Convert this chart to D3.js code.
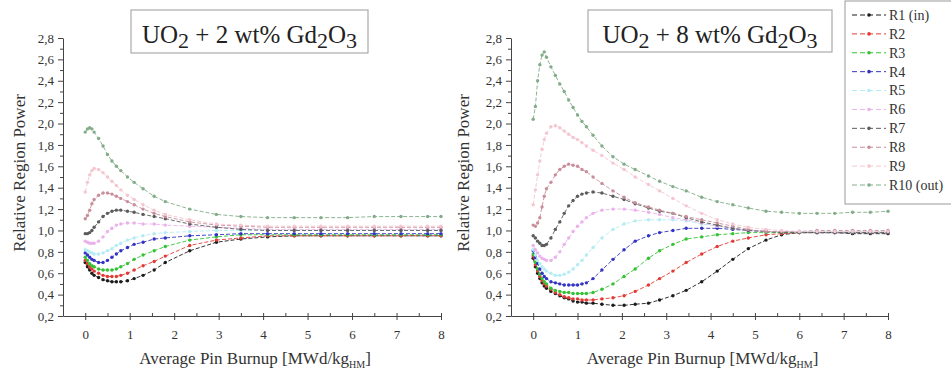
<!DOCTYPE html>
<html lang="en">
<head>
<meta charset="UTF-8">
<title>Relative Region Power</title>
<script src="https://cdnjs.cloudflare.com/ajax/libs/d3/7.8.5/d3.min.js"></script>
<style>
    body { margin: 0; background: #fff; }
    svg { display: block; }
    svg text { font-family: "Liberation Serif", "DejaVu Serif", "Times New Roman", serif !important; }
    .tick text { fill: #333; font-size: 13px; }
    .domain, .tick line { stroke: #444; }
    .ytitle, .xtitle { fill: #333; }
    .legend text { font-size: 14px; fill: #333; }
</style>
</head>
<body>
<script>
// burnup grids (MWd/kgHM)
const burnupLeft = [0, 0.05, 0.1, 0.15, 0.2, 0.3, 0.4, 0.5, 0.6, 0.7, 0.8, 0.95, 1.1, 1.3, 1.55, 1.8,
    2.35, 2.95, 3.5, 4.1, 4.7, 5.3, 5.9, 6.5, 7.1, 7.7, 8.0];
const burnupRight = [0, 0.05, 0.1, 0.15, 0.2, 0.25, 0.3, 0.4, 0.5, 0.6, 0.7, 0.8, 0.9, 1.0, 1.1, 1.2,
    1.35, 1.55, 1.8, 2.05, 2.3, 2.6, 2.85, 3.15, 3.45, 3.8, 4.15, 4.5, 4.85, 5.25, 5.6, 6.0, 6.4, 6.8, 7.2, 7.6, 8.0];

const regions = ["R1 (in)", "R2", "R3", "R4", "R5", "R6", "R7", "R8", "R9", "R10 (out)"];
const regionColors = ["#1c1c1c", "#e23b35", "#33c233", "#3434c4", "#b3ecf4", "#eab2ea", "#5c5c5c", "#c88f9b", "#f4c6cf", "#82ad88"];

// UO2 + 2 wt% Gd2O3
const gd2R1  = [0.70, 0.66, 0.63, 0.60, 0.58, 0.56, 0.54, 0.53, 0.52, 0.52, 0.52, 0.53, 0.55, 0.58, 0.63, 0.70, 0.81, 0.89, 0.92, 0.94, 0.95, 0.95, 0.95, 0.95, 0.95, 0.95, 0.95];
const gd2R2  = [0.72, 0.69, 0.66, 0.64, 0.62, 0.60, 0.58, 0.57, 0.57, 0.57, 0.58, 0.60, 0.63, 0.67, 0.71, 0.76, 0.86, 0.91, 0.93, 0.95, 0.95, 0.95, 0.95, 0.95, 0.95, 0.95, 0.95];
const gd2R3  = [0.75, 0.72, 0.69, 0.67, 0.66, 0.64, 0.63, 0.63, 0.63, 0.64, 0.66, 0.69, 0.73, 0.77, 0.81, 0.85, 0.91, 0.94, 0.96, 0.96, 0.96, 0.96, 0.96, 0.96, 0.96, 0.96, 0.96];
const gd2R4  = [0.79, 0.77, 0.75, 0.73, 0.72, 0.70, 0.70, 0.72, 0.75, 0.78, 0.81, 0.84, 0.87, 0.89, 0.92, 0.93, 0.95, 0.96, 0.97, 0.97, 0.97, 0.97, 0.97, 0.97, 0.97, 0.97, 0.97];
const gd2R5  = [0.82, 0.81, 0.80, 0.79, 0.78, 0.78, 0.79, 0.81, 0.83, 0.86, 0.88, 0.91, 0.93, 0.95, 0.97, 0.98, 0.99, 1.00, 1.00, 1.00, 1.00, 1.00, 1.00, 1.00, 1.00, 1.00, 1.00];
const gd2R6  = [0.90, 0.89, 0.88, 0.88, 0.88, 0.90, 0.94, 0.99, 1.02, 1.05, 1.06, 1.07, 1.07, 1.06, 1.06, 1.05, 1.04, 1.03, 1.02, 1.01, 1.01, 1.01, 1.01, 1.01, 1.01, 1.01, 1.01];
const gd2R7  = [0.97, 0.97, 0.98, 1.00, 1.03, 1.08, 1.13, 1.16, 1.18, 1.19, 1.19, 1.18, 1.17, 1.15, 1.13, 1.11, 1.06, 1.03, 1.01, 1.00, 1.00, 1.00, 1.00, 1.00, 1.00, 1.00, 1.00];
const gd2R8  = [1.11, 1.14, 1.19, 1.25, 1.29, 1.33, 1.35, 1.35, 1.34, 1.32, 1.30, 1.27, 1.24, 1.20, 1.16, 1.13, 1.08, 1.05, 1.04, 1.03, 1.03, 1.03, 1.03, 1.03, 1.03, 1.03, 1.03];
const gd2R9  = [1.36, 1.45, 1.52, 1.56, 1.58, 1.57, 1.54, 1.50, 1.46, 1.42, 1.38, 1.33, 1.29, 1.24, 1.19, 1.15, 1.10, 1.06, 1.05, 1.04, 1.04, 1.04, 1.04, 1.04, 1.04, 1.04, 1.04];
const gd2R10 = [1.92, 1.95, 1.96, 1.95, 1.92, 1.86, 1.79, 1.71, 1.65, 1.60, 1.56, 1.50, 1.45, 1.39, 1.32, 1.27, 1.20, 1.15, 1.13, 1.12, 1.12, 1.12, 1.12, 1.13, 1.13, 1.13, 1.13];

// UO2 + 8 wt% Gd2O3
const gd8R1  = [0.74, 0.66, 0.60, 0.55, 0.51, 0.48, 0.46, 0.43, 0.41, 0.39, 0.37, 0.36, 0.34, 0.33, 0.33, 0.32, 0.32, 0.31, 0.30, 0.30, 0.31, 0.32, 0.35, 0.39, 0.44, 0.52, 0.62, 0.73, 0.83, 0.91, 0.96, 0.98, 0.98, 0.98, 0.97, 0.97, 0.97];
const gd8R2  = [0.76, 0.68, 0.62, 0.57, 0.53, 0.50, 0.48, 0.45, 0.42, 0.40, 0.38, 0.37, 0.36, 0.36, 0.35, 0.35, 0.35, 0.36, 0.37, 0.39, 0.43, 0.49, 0.55, 0.62, 0.70, 0.78, 0.85, 0.90, 0.93, 0.96, 0.97, 0.98, 0.98, 0.98, 0.98, 0.98, 0.98];
const gd8R3  = [0.78, 0.70, 0.64, 0.59, 0.55, 0.52, 0.50, 0.46, 0.44, 0.43, 0.42, 0.42, 0.41, 0.41, 0.41, 0.41, 0.42, 0.45, 0.50, 0.57, 0.64, 0.74, 0.81, 0.87, 0.92, 0.94, 0.96, 0.97, 0.98, 0.98, 0.98, 0.98, 0.98, 0.98, 0.98, 0.98, 0.98];
const gd8R4  = [0.81, 0.75, 0.69, 0.64, 0.60, 0.57, 0.55, 0.52, 0.51, 0.50, 0.49, 0.49, 0.49, 0.49, 0.50, 0.51, 0.55, 0.63, 0.73, 0.82, 0.90, 0.95, 0.98, 1.00, 1.02, 1.02, 1.02, 1.01, 1.00, 0.99, 0.99, 0.99, 0.98, 0.98, 0.98, 0.98, 0.98];
const gd8R5  = [0.82, 0.77, 0.72, 0.69, 0.66, 0.64, 0.62, 0.60, 0.58, 0.58, 0.59, 0.61, 0.64, 0.68, 0.72, 0.77, 0.84, 0.93, 1.01, 1.06, 1.09, 1.10, 1.10, 1.10, 1.09, 1.06, 1.04, 1.02, 1.00, 0.99, 0.99, 0.99, 0.99, 0.99, 0.99, 0.99, 0.99];
const gd8R6  = [0.86, 0.82, 0.79, 0.76, 0.74, 0.73, 0.72, 0.72, 0.75, 0.80, 0.87, 0.93, 0.99, 1.04, 1.08, 1.12, 1.16, 1.19, 1.20, 1.20, 1.19, 1.17, 1.15, 1.12, 1.10, 1.07, 1.04, 1.02, 1.00, 0.99, 0.99, 0.98, 0.98, 0.98, 0.98, 0.98, 0.98];
const gd8R7  = [0.95, 0.93, 0.90, 0.88, 0.86, 0.86, 0.87, 0.93, 1.01, 1.08, 1.16, 1.23, 1.28, 1.32, 1.34, 1.35, 1.36, 1.35, 1.32, 1.29, 1.25, 1.21, 1.18, 1.16, 1.12, 1.08, 1.05, 1.02, 1.00, 0.99, 0.98, 0.98, 0.98, 0.98, 0.98, 0.98, 0.98];
const gd8R8  = [1.05, 1.04, 1.07, 1.12, 1.22, 1.32, 1.39, 1.45, 1.52, 1.57, 1.60, 1.62, 1.61, 1.60, 1.57, 1.55, 1.50, 1.44, 1.37, 1.31, 1.26, 1.22, 1.19, 1.16, 1.13, 1.10, 1.07, 1.04, 1.01, 0.99, 0.99, 0.99, 1.00, 1.00, 1.00, 1.00, 1.00];
const gd8R9  = [1.24, 1.38, 1.52, 1.65, 1.76, 1.85, 1.91, 1.97, 1.98, 1.96, 1.93, 1.90, 1.87, 1.85, 1.82, 1.79, 1.75, 1.70, 1.63, 1.57, 1.50, 1.43, 1.37, 1.30, 1.23, 1.16, 1.10, 1.06, 1.03, 1.01, 1.00, 0.99, 0.99, 0.99, 0.99, 0.99, 0.99];
const gd8R10 = [2.04, 2.16, 2.40, 2.55, 2.64, 2.67, 2.62, 2.53, 2.45, 2.37, 2.30, 2.22, 2.15, 2.08, 2.02, 1.97, 1.89, 1.79, 1.69, 1.62, 1.57, 1.51, 1.46, 1.41, 1.37, 1.31, 1.27, 1.24, 1.21, 1.18, 1.17, 1.16, 1.16, 1.16, 1.17, 1.17, 1.18];

const yTicks = [0.2, 0.4, 0.6, 0.8, 1.0, 1.2, 1.4, 1.6, 1.8, 2.0, 2.2, 2.4, 2.6, 2.8];
const xTicks = [0, 1, 2, 3, 4, 5, 6, 7, 8];

const width = 951, height = 374;
const svg = d3.select("body").append("svg")
    .attr("width", width)
    .attr("height", height);

const commaFmt = d3.formatLocale({decimal: ",", thousands: ".", grouping: [3], currency: ["", ""]}).format(".1f");

const panels = [
    {left: 63, right: 441, ytitleX: 19, wt: "2", box: [131, 10, 237, 43], x: burnupLeft,
        series: [gd2R1, gd2R2, gd2R3, gd2R4, gd2R5, gd2R6, gd2R7, gd2R8, gd2R9, gd2R10]},
    {left: 511, right: 888, ytitleX: 463, wt: "8", box: [588, 10, 244, 42], x: burnupRight,
        series: [gd8R1, gd8R2, gd8R3, gd8R4, gd8R5, gd8R6, gd8R7, gd8R8, gd8R9, gd8R10]}
];

const plotTop = 38, plotBottom = 316;

panels.forEach(p => {
    const x = d3.scaleLinear().domain([-0.5, 8]).range([p.left, p.right]);
    const y = d3.scaleLinear().domain([0.2, 2.8]).range([plotBottom, plotTop]);
    const g = svg.append("g");

    // minor ticks
    g.append("g")
        .attr("transform", `translate(${p.left},0)`)
        .call(d3.axisLeft(y).tickValues(d3.range(0.3, 2.8, 0.2)).tickSize(3).tickFormat(""))
        .call(a => a.select(".domain").remove());
    g.append("g")
        .attr("transform", `translate(0,${plotBottom})`)
        .call(d3.axisBottom(x).tickValues(d3.range(-0.5, 8, 1)).tickSizeInner(-3).tickSizeOuter(0).tickFormat(""))
        .call(a => a.select(".domain").remove());

    g.append("g")
        .attr("transform", `translate(${p.left},0)`)
        .call(d3.axisLeft(y).tickValues(yTicks).tickSizeInner(5).tickSizeOuter(0).tickPadding(4).tickFormat(commaFmt));
    g.append("g")
        .attr("transform", `translate(0,${plotBottom})`)
        .call(d3.axisBottom(x).tickValues(xTicks).tickSizeInner(-4).tickSizeOuter(0).tickPadding(14).tickFormat(d3.format("d")))
        .call(a => a.selectAll(".tick line").attr("y2", 4).attr("y1", -3));

    // axis titles
    g.append("text")
        .attr("class", "ytitle")
        .attr("transform", `translate(${p.ytitleX},${(plotTop + plotBottom) / 2 - 4}) rotate(-90)`)
        .attr("text-anchor", "middle")
        .attr("dy", "0.35em")
        .style("font-size", "17px")
        .text("Relative Region Power");

    const xt = g.append("text")
        .attr("class", "xtitle")
        .attr("x", (x(0) + x(8)) / 2 - 8)
        .attr("y", 364)
        .attr("text-anchor", "middle")
        .style("font-size", "17px");
    xt.append("tspan").text("Average Pin Burnup [MWd/kg");
    xt.append("tspan").attr("dy", 4).style("font-size", "10px").text("HM");
    xt.append("tspan").attr("dy", -4).text("]");

    // curves
    const line = d3.line()
        .x((d, i) => x(p.x[i]))
        .y(d => y(d));

    p.series.forEach((vals, k) => {
        g.append("path")
            .datum(vals)
            .attr("fill", "none")
            .attr("stroke", regionColors[k])
            .attr("stroke-width", 0.9)
            .attr("stroke-dasharray", "4,2")
            .attr("d", line);
        g.append("g")
            .selectAll("circle")
            .data(vals)
            .join("circle")
            .attr("cx", (d, i) => x(p.x[i]))
            .attr("cy", d => y(d))
            .attr("r", 1.7)
            .attr("fill", regionColors[k]);
    });

    // title box
    const [bx, by, bw, bh] = p.box;
    g.append("rect")
        .attr("x", bx).attr("y", by).attr("width", bw).attr("height", bh)
        .attr("fill", "#fff").attr("stroke", "#999").attr("stroke-width", 1);
    const t = g.append("text")
        .attr("x", bx + bw / 2)
        .attr("y", by + 33)
        .attr("text-anchor", "middle")
        .style("font-size", "25px")
        .attr("fill", "#222");
    t.append("tspan").text("UO");
    t.append("tspan").attr("dy", 5).style("font-size", "22px").text("2");
    t.append("tspan").attr("dy", -5).text(` + ${p.wt} wt% Gd`);
    t.append("tspan").attr("dy", 5).style("font-size", "22px").text("2");
    t.append("tspan").attr("dy", -5).text("O");
    t.append("tspan").attr("dy", 5).style("font-size", "22px").text("3");
});

// legend
const legend = svg.append("g").attr("class", "legend");
legend.append("rect")
    .attr("x", 845).attr("y", 1).attr("width", 120).attr("height", 203)
    .attr("fill", "#fff").attr("stroke", "#999");

const rowY = d3.scalePoint().domain(regions).range([15, 185]);
regions.forEach((name, k) => {
    const yy = rowY(name);
    legend.append("line")
        .attr("x1", 852).attr("x2", 886).attr("y1", yy).attr("y2", yy)
        .attr("stroke", regionColors[k]).attr("stroke-dasharray", "5,3");
    legend.append("circle")
        .attr("cx", 869).attr("cy", yy).attr("r", 1.8).attr("fill", regionColors[k]);
    legend.append("text")
        .attr("x", 889).attr("y", yy).attr("dy", "0.35em")
        .text(name);
});
</script>
</body>
</html>
